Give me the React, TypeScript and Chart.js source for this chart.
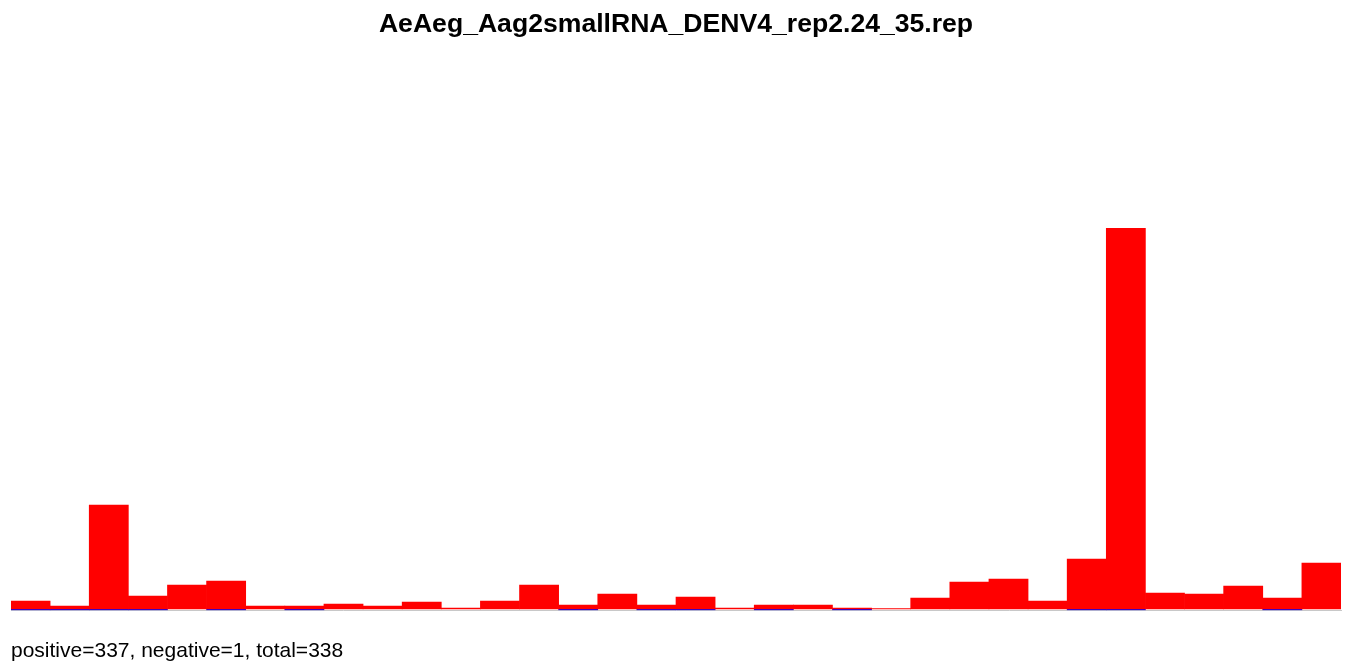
import React, { useEffect, useRef } from "react";
import { Chart, registerables } from "chart.js";

Chart.register(...registerables);

const TITLE = "AeAeg_Aag2smallRNA_DENV4_rep2.24_35.rep";
const FOOTER = "positive=337, negative=1, total=338";

const categories = [
  "1", "2", "3", "4", "5", "6", "7", "8", "9", "10", "11", "12", "13", "14", "15", "16", "17",
  "18", "19", "20", "21", "22", "23", "24", "25", "26", "27", "28", "29", "30", "31", "32", "33", "34",
];

const positiveValues = [
  8, 3, 104, 13, 24, 28, 3, 3, 5, 3, 7, 1, 8, 24, 4, 15, 4,
  12, 1, 4, 4, 1, 0.5, 11, 27, 30, 8, 50, 381, 16, 15, 23, 11, 46,
];

const negativeValues = [
  -1, -1, -1, -1, null, -1, null, -1, null, null, null, null, null, null, -1, null, -1,
  -1, null, -1, null, -1, null, null, null, null, null, -1, -1, null, null, null, -1, null,
];

const Y_MIN = -1.5;
const Y_MAX = 381;

export default function App() {
  const canvasRef = useRef<HTMLCanvasElement | null>(null);

  useEffect(() => {
    const canvas = canvasRef.current;
    if (!canvas) return;
    const chart = new Chart(canvas, {
      type: "bar",
      data: {
        labels: categories,
        datasets: [
          {
            label: "positive",
            data: positiveValues,
            backgroundColor: "#ff0000",
            borderWidth: 0,
            barPercentage: 1,
            categoryPercentage: 1,
          },
          {
            label: "negative",
            data: negativeValues,
            backgroundColor: "#0000ff",
            borderWidth: 0,
            barPercentage: 1,
            categoryPercentage: 1,
          },
        ],
      },
      options: {
        responsive: false,
        animation: false,
        layout: { padding: { left: 11, right: 6, top: 228, bottom: 53.5 } },
        plugins: {
          legend: { display: false },
          tooltip: { enabled: false },
          title: { display: false },
        },
        scales: {
          x: {
            stacked: true,
            display: true,
            grid: { display: false, drawTicks: false },
            ticks: { display: false },
            border: { display: true, color: "#c8c8c8", width: 1 },
          },
          y: {
            stacked: true,
            display: false,
            min: Y_MIN,
            max: Y_MAX,
          },
        },
      },
    });
    return () => chart.destroy();
  }, []);

  return (
    <div
      style={{
        position: "fixed",
        left: 0,
        top: 0,
        width: 1347,
        height: 664,
        background: "#ffffff",
        fontFamily: "'Liberation Sans', Arial, sans-serif",
      }}
    >
      <canvas ref={canvasRef} width={1347} height={664} style={{ position: "absolute", left: 0, top: 0 }} />
      <div
        style={{
          position: "absolute",
          left: 11,
          width: 1330,
          top: 10,
          textAlign: "center",
          fontWeight: "bold",
          fontSize: 26.6,
          lineHeight: "27px",
          color: "#000",
          whiteSpace: "nowrap",
        }}
      >
        {TITLE}
      </div>
      <div
        style={{
          position: "absolute",
          left: 11,
          top: 639,
          fontSize: 21,
          lineHeight: "21px",
          color: "#000",
          whiteSpace: "nowrap",
        }}
      >
        {FOOTER}
      </div>
    </div>
  );
}
